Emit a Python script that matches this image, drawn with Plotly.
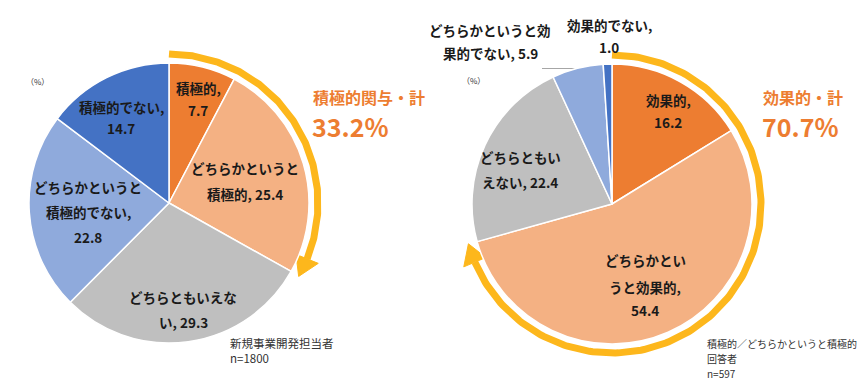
import numpy as np
import plotly.graph_objects as go

# ---------------- data ----------------
left_labels = ["積極的", "どちらかというと積極的", "どちらともいえない",
               "どちらかというと積極的でない", "積極的でない"]
left_values = [7.7, 25.4, 29.3, 22.8, 14.7]
left_total = 33.2
left_total_label = "積極的関与・計"
left_note = ["新規事業開発担当者", "n=1800"]

right_labels = ["効果的", "どちらかというと効果的", "どちらともいえない",
                "どちらかというと効果的でない", "効果的でない"]
right_values = [16.2, 54.4, 22.4, 5.9, 1.0]
right_total = 70.7
right_total_label = "効果的・計"
right_note = ["積極的／どちらかというと積極的", "回答者", "n=597"]

unit_label = "（%）"

# ---------------- styles / layout ----------------
W, H = 865, 390
colors = ["#ED7D31", "#F4B183", "#BFBFBF", "#8FAADC", "#4472C4"]
ARC = "#FDB71C"
ORANGE = "#ED7D31"
TXT = "#1A1A1A"
JP = "Noto Sans CJK JP"

pies = {
    "left": dict(cx=169, cy=203, r=140),
    "right": dict(cx=612, cy=204, r=140),
}

# label placement: (center x, [line y...], break indices)
left_pos = [
    (198, [88, 110], [4]),
    (245, [168, 194], [8]),
    (183, [297, 322], [8]),
    (88, [187, 212, 237], [8, 15]),
    (121, [107, 128], [7]),
]
right_pos = [
    (668, [100, 122], [4]),
    (645, [260, 287, 310], [6, 12]),
    (520, [157, 182], [6]),
    (490, [30, 53], [9]),
    (609, [25, 47], [7]),
]


def wrap(text, breaks):
    out, prev = [], 0
    for b in breaks + [len(text)]:
        out.append(text[prev:b].strip())
        prev = b
    return out


fig = go.Figure()

for key, vals in (("left", left_values), ("right", right_values)):
    p = pies[key]
    fig.add_trace(go.Pie(
        values=vals,
        labels=(left_labels if key == "left" else right_labels),
        sort=False, direction="clockwise", rotation=0,
        marker=dict(colors=colors, line=dict(color="white", width=1.5)),
        textinfo="none", hoverinfo="skip", showlegend=False,
        domain=dict(x=[(p["cx"] - p["r"]) / W, (p["cx"] + p["r"]) / W],
                    y=[(H - p["cy"] - p["r"]) / H, (H - p["cy"] + p["r"]) / H]),
    ))

# arcs with arrow heads (cumulative share)
RC = 149
for key, total in (("left", left_total), ("right", right_total)):
    p = pies[key]
    tip = np.radians(total * 3.6)
    base = tip - np.radians(7.5)
    th = np.linspace(0, base, 200)
    fig.add_trace(go.Scatter(
        x=p["cx"] + RC * np.sin(th), y=p["cy"] - RC * np.cos(th),
        mode="lines", line=dict(color=ARC, width=7),
        hoverinfo="skip", showlegend=False))
    r_in, r_out = RC - 12, RC + 12
    tx = [p["cx"] + r_in * np.sin(base), p["cx"] + RC * np.sin(tip),
          p["cx"] + r_out * np.sin(base), p["cx"] + r_in * np.sin(base)]
    ty = [p["cy"] - r_in * np.cos(base), p["cy"] - RC * np.cos(tip),
          p["cy"] - r_out * np.cos(base), p["cy"] - r_in * np.cos(base)]
    fig.add_trace(go.Scatter(
        x=tx, y=ty, mode="lines", fill="toself", fillcolor=ARC,
        line=dict(color=ARC, width=1), hoverinfo="skip", showlegend=False))

# leader line for the small right slice
p = pies["right"]
mid = np.radians((sum(right_values[:3]) + right_values[3] / 2) * 3.6)
lx = p["cx"] + p["r"] * np.sin(mid)
ly = p["cy"] - p["r"] * np.cos(mid)
fig.add_trace(go.Scatter(x=[542, lx], y=[ly, ly], mode="lines",
                         line=dict(color="#A6A6A6", width=1),
                         hoverinfo="skip", showlegend=False))

ann = []
for labels, vals, pos in ((left_labels, left_values, left_pos),
                          (right_labels, right_values, right_pos)):
    for lab, v, (x, ys, brk) in zip(labels, vals, pos):
        for line, y in zip(wrap(f"{lab}, {v:.1f}", brk), ys):
            ann.append(dict(x=x, y=y, text=line, showarrow=False,
                            xanchor="center", yanchor="middle",
                            font=dict(family=JP, size=13.5, color=TXT, weight="bold")))

for x, y in ((37, 81), (473, 80)):
    ann.append(dict(x=x, y=y, text=unit_label, showarrow=False,
                    xanchor="center", yanchor="middle",
                    font=dict(family=JP, size=8, color="#333333")))

for x, t1, tot in ((311, left_total_label, left_total), (761, right_total_label, right_total)):
    ann.append(dict(x=x, y=97, text=t1, showarrow=False, xanchor="left", yanchor="middle",
                    font=dict(family=JP, size=16, color=ORANGE, weight="bold")))
    ann.append(dict(x=x - 1, y=126, text=f"{tot:.1f}%", showarrow=False,
                    xanchor="left", yanchor="middle",
                    font=dict(family=JP, size=25, color=ORANGE, weight="bold")))

for x, lines, size in ((228, left_note, 11.5), (705, right_note, 10)):
    for i, line in enumerate(lines):
        ann.append(dict(x=x, y=343 + 15 * i, text=line, showarrow=False,
                        xanchor="left", yanchor="middle", align="left",
                        font=dict(family=JP, size=size, color="#333333")))

fig.update_layout(
    width=W, height=H, margin=dict(l=0, r=0, t=0, b=0),
    paper_bgcolor="white", plot_bgcolor="white",
    xaxis=dict(range=[0, W], visible=False, fixedrange=True),
    yaxis=dict(range=[H, 0], visible=False, fixedrange=True),
    annotations=ann,
)

fig.write_html("out.html", config={"displayModeBar": False},
               post_script="document.body.style.margin='0';document.body.style.overflow='hidden';")
